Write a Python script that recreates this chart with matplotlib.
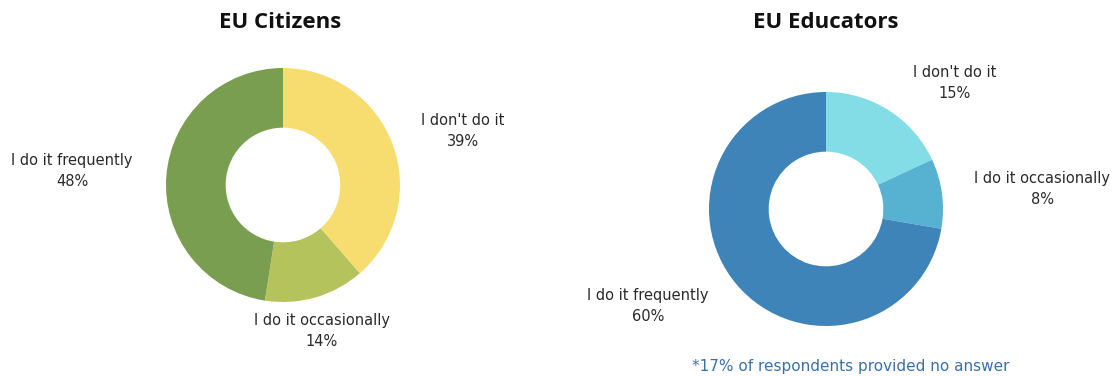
import matplotlib.pyplot as plt

# data
labels_citizens = ["I don't do it", "I do it occasionally", "I do it frequently"]
values_citizens = [39, 14, 48]
colors_citizens = ["#f7dc6f", "#b4c35b", "#7a9e50"]

labels_educators = ["I don't do it", "I do it occasionally", "I do it frequently"]
values_educators = [15, 8, 60]
colors_educators = ["#82dde6", "#57b2d2", "#3f84b8"]

W, H = 1115, 376
fig = plt.figure(figsize=(W / 100, H / 100), dpi=100)


def px_axes(cx, cy, r):
    # axes box from pixel centre and radius (y measured from top)
    return fig.add_axes([(cx - r) / W, (H - cy - r) / H, 2 * r / W, 2 * r / H])


def px_text(x, y, s, **kw):
    fig.text(x / W, 1 - y / H, s, ha="center", va="center", **kw)


def donut(ax, values, colors):
    ax.pie(values, colors=colors, startangle=90, counterclock=False,
           radius=1, wedgeprops=dict(width=0.51, linewidth=0))
    ax.set_xlim(-1, 1)
    ax.set_ylim(-1, 1)
    ax.set_aspect("equal")
    ax.axis("off")


ax1 = px_axes(283, 185, 117)
donut(ax1, values_citizens, colors_citizens)
ax2 = px_axes(826, 209, 117)
donut(ax2, values_educators, colors_educators)

title_kw = dict(fontsize=16, fontweight="bold", family="Open Sans", color="#111111")
px_text(280, 22, "EU Citizens", **title_kw)
px_text(826, 22, "EU Educators", **title_kw)

lab_kw = dict(fontsize=10.5, color="#2a2a2a", linespacing=1.5)
pos_citizens = [(463, 131), (322, 331), (72, 171)]
for (x, y), lab, v in zip(pos_citizens, labels_citizens, values_citizens):
    px_text(x, y, f"{lab}\n{v}%", **lab_kw)

pos_educators = [(955, 83), (1042, 189), (648, 306)]
for (x, y), lab, v in zip(pos_educators, labels_educators, values_educators):
    px_text(x, y, f"{lab}\n{v}%", **lab_kw)

px_text(851, 366, "*17% of respondents provided no answer", fontsize=11, color="#3a70a8")

fig.savefig("out.png", dpi=100)
